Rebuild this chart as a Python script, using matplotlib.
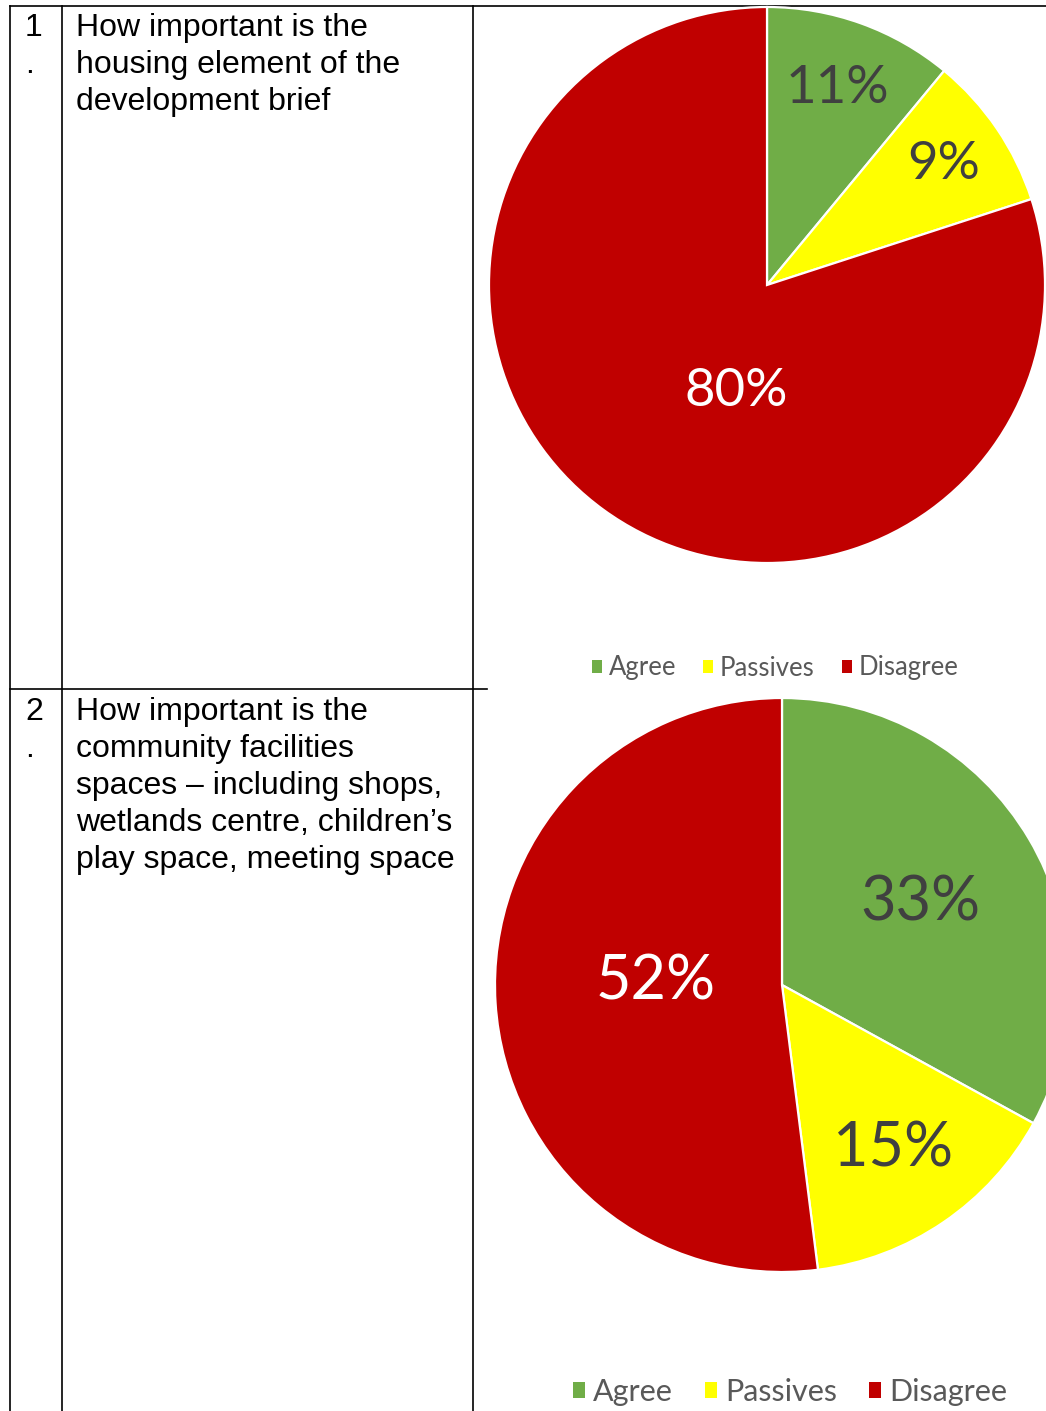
import matplotlib
matplotlib.use("Agg")
import matplotlib.pyplot as plt
from matplotlib.patches import Patch
import numpy as np

W, H = 1046, 1411
DPI = 100

# ---------------- data ----------------
categories = ["Agree", "Passives", "Disagree"]
colors = ["#70AD47", "#FFFF00", "#C00000"]
q1_values = [11, 9, 80]
q2_values = [33, 15, 52]
q1_number = ["1", "."]
q2_number = ["2", "."]
q1_text = ["How important is the", "housing element of the", "development brief"]
q2_text = ["How important is the", "community facilities",
           "spaces \u2013 including shops,", "wetlands centre, children\u2019s",
           "play space, meeting space"]

fig = plt.figure(figsize=(W / DPI, H / DPI), dpi=DPI)
fig.patch.set_facecolor("white")

# background axes in pixel coordinates for table layout
bg = fig.add_axes([0, 0, 1, 1])
bg.set_xlim(0, W)
bg.set_ylim(H, 0)
bg.axis("off")

lc = "black"
lw = 1.2
bg.plot([10, 10], [6, H], color=lc, lw=lw)
bg.plot([62, 62], [6, H], color=lc, lw=lw)
bg.plot([473, 473], [6, H], color=lc, lw=lw)
bg.plot([10, W], [6, 6], color=lc, lw=lw)
bg.plot([10, 487], [689, 689], color=lc, lw=lw)

tfont = dict(family=["Liberation Sans", "DejaVu Sans"], fontsize=23, color="black")
line_gap = 37.0


def draw_row(nums, lines, base_y):
    for i, s in enumerate(nums):
        bg.text(25, base_y + i * line_gap, s, ha="left", va="baseline", **tfont)
    for i, s in enumerate(lines):
        bg.text(76, base_y + i * line_gap, s, ha="left", va="baseline", **tfont)


draw_row(q1_number, q1_text, 36)
draw_row(q2_number, q2_text, 720)


def draw_pie(values, cx, cy, r, label_fs, dists, shifts, label_colors,
             leg_cx, leg_cy, leg_fs):
    ax = fig.add_axes([(cx - r) / W, (H - (cy + r)) / H, 2 * r / W, 2 * r / H])
    wedges, _, autotexts = ax.pie(
        values, colors=colors, startangle=90, counterclock=False,
        autopct=lambda p: "%.0f%%" % p,
        wedgeprops=dict(edgecolor="white", linewidth=1.6))
    ax.set_xlim(-1, 1)
    ax.set_ylim(-1, 1)
    ax.set_aspect("equal")
    ax.axis("off")
    for w, t, d, s, c in zip(wedges, autotexts, dists, shifts, label_colors):
        th = np.deg2rad((w.theta1 + w.theta2) / 2 + s)
        t.set_position((d * np.cos(th), d * np.sin(th)))
        t.set_ha("center")
        t.set_va("center")
        t.set_color(c)
        t.set_fontsize(label_fs)
        t.set_family(["Lato", "DejaVu Sans"])
    handles = [Patch(facecolor=c, edgecolor="none") for c in colors]
    fig.legend(handles, categories, loc="center",
               bbox_to_anchor=(leg_cx / W, 1 - leg_cy / H),
               ncol=3, frameon=False,
               prop=dict(family="Lato", size=leg_fs),
               handlelength=0.4, handleheight=0.4, handletextpad=0.25,
               columnspacing=1.05, labelcolor="#595959", borderpad=0)


draw_pie(q1_values, 767, 285, 278, 38, [0.75, 0.77, 0.40], [0, 0, 20],
         ["#404040", "#404040", "white"], 775, 668, 18.5)
draw_pie(q2_values, 782, 985, 287, 44, [0.56, 0.69, 0.44], [0, 0, -5],
         ["#404040", "#404040", "white"], 790, 1392, 22)

fig.savefig("out.png", dpi=DPI, facecolor="white")
